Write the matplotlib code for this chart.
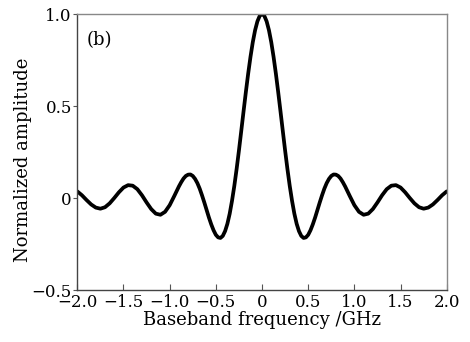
import matplotlib
matplotlib.use("Agg")
import matplotlib.pyplot as plt

# Data (right half; curve is symmetric about 0)
half_freq = [0.000, 0.025, 0.050, 0.075, 0.100, 0.125, 0.150, 0.175, 0.200, 0.225,
             0.250, 0.275, 0.300, 0.325, 0.350, 0.375, 0.400, 0.425, 0.450, 0.475,
             0.500, 0.525, 0.550, 0.575, 0.600, 0.625, 0.650, 0.675, 0.700, 0.725,
             0.750, 0.775, 0.800, 0.825, 0.850, 0.875, 0.900, 0.950,
             1.00, 1.05, 1.10, 1.15, 1.20, 1.25, 1.30, 1.35, 1.40, 1.45,
             1.50, 1.55, 1.60, 1.65, 1.70, 1.75, 1.80, 1.85, 1.90, 1.95, 2.00]
half_amp = [1.000, 0.990, 0.960, 0.912, 0.847, 0.767, 0.676, 0.576, 0.471, 0.364,
            0.258, 0.158, 0.066, -0.015, -0.085, -0.140, -0.180, -0.206, -0.217, -0.214,
            -0.200, -0.175, -0.143, -0.106, -0.065, -0.024, 0.015, 0.051, 0.081, 0.104,
            0.120, 0.128, 0.127, 0.120, 0.106, 0.086, 0.063, 0.011,
            -0.039, -0.075, -0.091, -0.085, -0.060, -0.024, 0.015, 0.048, 0.067, 0.070,
            0.057, 0.031, 0.000, -0.029, -0.050, -0.058, -0.052, -0.035, -0.011, 0.015, 0.036]
freq = [-f for f in half_freq[:0:-1]] + half_freq
amplitude = half_amp[:0:-1] + half_amp

xticks = [-2.0, -1.5, -1.0, -0.5, 0, 0.5, 1.0, 1.5, 2.0]
xticklabels = ["\u22122.0", "\u22121.5", "\u22121.0", "\u22120.5", "0", "0.5", "1.0", "1.5", "2.0"]
yticks = [-0.5, 0, 0.5, 1.0]
yticklabels = ["\u22120.5", "0", "0.5", "1.0"]

plt.rcParams['font.family'] = ['DejaVu Serif']

fig = plt.figure(figsize=(4.70, 3.42), dpi=100)
ax = fig.add_axes([0.1645, 0.152, 0.786, 0.807])
ax.plot(freq, amplitude, color='black', lw=2.7, solid_capstyle='round', solid_joinstyle='round')
ax.set_xlim(-2, 2)
ax.set_ylim(-0.5, 1.0)
ax.set_xticks(xticks)
ax.set_xticklabels(xticklabels)
ax.set_yticks(yticks)
ax.set_yticklabels(yticklabels)
ax.tick_params(axis='x', direction='in', length=4, width=0.8, color='#555555', pad=3, labelsize=12)
ax.tick_params(axis='y', direction='out', length=3, width=0.8, color='#555555', pad=1, labelsize=12)
for s in ['left', 'bottom']:
    ax.spines[s].set_color('#444444')
    ax.spines[s].set_linewidth(1.0)
for s in ['top', 'right']:
    ax.spines[s].set_color('#888888')
    ax.spines[s].set_linewidth(1.0)
ax.set_xlabel("Baseband frequency /GHz", fontsize=13, labelpad=0)
ax.set_ylabel("Normalized amplitude", fontsize=13, va='center')
ax.yaxis.set_label_coords(-0.147, 0.471)
ax.text(-1.9, 0.86, "(b)", fontsize=13, va='center', ha='left')
fig.savefig("out.png", dpi=100)
